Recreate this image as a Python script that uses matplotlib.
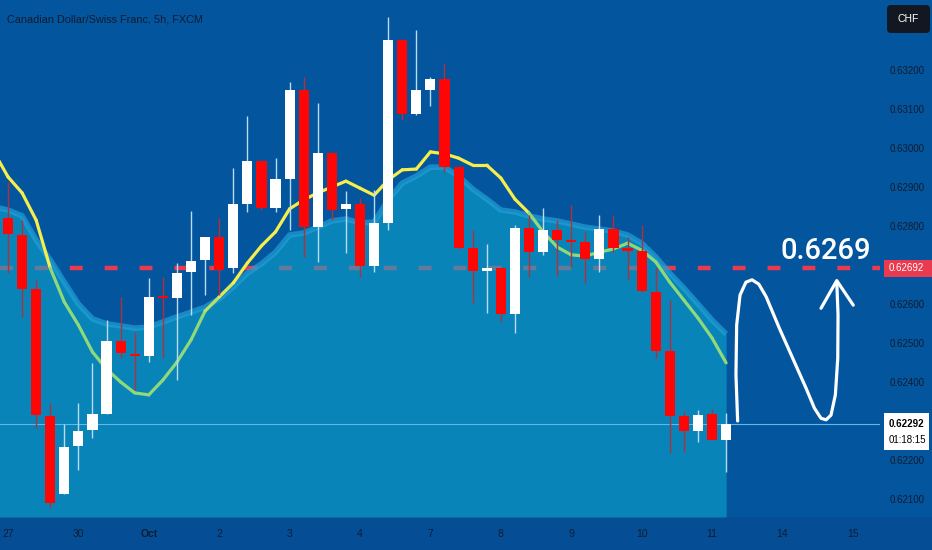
import matplotlib
matplotlib.use("Agg")
import matplotlib.pyplot as plt
import matplotlib.transforms as mtransforms
from matplotlib.collections import LineCollection
from matplotlib.patches import Rectangle, FancyBboxPatch
import numpy as np

plt.rcParams['font.family'] = ['Liberation Sans', 'DejaVu Sans']

# CAD/CHF 5h candles (bar 0 = first bar of Sep 27)
opens = [0.62821, 0.62777, 0.62638, 0.62313, 0.62113, 0.62236, 0.62277, 0.62318, 0.62505, 0.62472,
         0.62467, 0.62621, 0.62615, 0.62682, 0.62713, 0.62772, 0.62692, 0.62856, 0.62967, 0.62846,
         0.62921, 0.63149, 0.62797, 0.62987, 0.62844, 0.62856, 0.62697, 0.62808, 0.63277, 0.63087,
         0.63149, 0.63177, 0.62951, 0.62744, 0.62685, 0.62692, 0.62574, 0.62795, 0.62733, 0.62790,
         0.62764, 0.62759, 0.62715, 0.62792, 0.62744, 0.62736, 0.62631, 0.62479, 0.62313, 0.62274,
         0.62318, 0.62251]
highs = [0.62913, 0.62815, 0.62662, 0.62346, 0.62292, 0.62346, 0.62449, 0.62559, 0.62618, 0.62528,
         0.62667, 0.62669, 0.62705, 0.62838, 0.62772, 0.62821, 0.62949, 0.63082, 0.62969, 0.62974,
         0.63169, 0.63182, 0.63115, 0.62990, 0.62890, 0.62872, 0.62892, 0.63336, 0.63280, 0.63303,
         0.63182, 0.63218, 0.62954, 0.62790, 0.62754, 0.62695, 0.62803, 0.62828, 0.62846, 0.62815,
         0.62854, 0.62785, 0.62828, 0.62828, 0.62772, 0.62803, 0.62695, 0.62610, 0.62326, 0.62328,
         0.62331, 0.62321]
lows = [0.62680, 0.62567, 0.62282, 0.62077, 0.62113, 0.62174, 0.62256, 0.62318, 0.62462, 0.62379,
        0.62451, 0.62462, 0.62405, 0.62572, 0.62623, 0.62623, 0.62679, 0.62836, 0.62841, 0.62836,
        0.62790, 0.62721, 0.62708, 0.62815, 0.62731, 0.62669, 0.62682, 0.62790, 0.63072, 0.63085,
        0.63108, 0.62938, 0.62741, 0.62603, 0.62577, 0.62554, 0.62526, 0.62669, 0.62726, 0.62672,
        0.62695, 0.62654, 0.62682, 0.62733, 0.62662, 0.62631, 0.62462, 0.62218, 0.62221, 0.62246,
        0.62251, 0.62169]
closes = [0.62779, 0.62638, 0.62315, 0.62090, 0.62233, 0.62274, 0.62318, 0.62505, 0.62474, 0.62467,
          0.62618, 0.62615, 0.62679, 0.62710, 0.62772, 0.62687, 0.62856, 0.62967, 0.62846, 0.62921,
          0.63149, 0.62797, 0.62987, 0.62841, 0.62856, 0.62697, 0.62808, 0.63277, 0.63087, 0.63149,
          0.63177, 0.62951, 0.62744, 0.62685, 0.62692, 0.62574, 0.62795, 0.62733, 0.62790, 0.62764,
          0.62759, 0.62715, 0.62792, 0.62744, 0.62736, 0.62633, 0.62479, 0.62313, 0.62274, 0.62315,
          0.62251, 0.62292]

# moving averages, first value is bar -1 (just off the left edge)
ma_fast = [0.62990, 0.62926, 0.62885, 0.62815, 0.62692, 0.62605, 0.62546, 0.62477, 0.62433, 0.62400,
           0.62372, 0.62367, 0.62405, 0.62451, 0.62508, 0.62582, 0.62618, 0.62654, 0.62705, 0.62749,
           0.62785, 0.62844, 0.62867, 0.62885, 0.62900, 0.62915, 0.62897, 0.62879, 0.62918, 0.62944,
           0.62946, 0.62990, 0.62985, 0.62974, 0.62956, 0.62956, 0.62923, 0.62869, 0.62833, 0.62785,
           0.62746, 0.62726, 0.62723, 0.62733, 0.62741, 0.62756, 0.62738, 0.62708, 0.62656, 0.62610,
           0.62564, 0.62513, 0.62449]
ma_slow = [0.62849, 0.62841, 0.62826, 0.62764, 0.62713, 0.62656, 0.62600, 0.62562, 0.62549, 0.62544,
           0.62538, 0.62541, 0.62554, 0.62567, 0.62579, 0.62592, 0.62613, 0.62644, 0.62679, 0.62703,
           0.62733, 0.62777, 0.62782, 0.62797, 0.62813, 0.62818, 0.62808, 0.62810, 0.62867, 0.62910,
           0.62928, 0.62951, 0.62951, 0.62928, 0.62895, 0.62869, 0.62841, 0.62836, 0.62826, 0.62818,
           0.62813, 0.62805, 0.62797, 0.62792, 0.62787, 0.62777, 0.62756, 0.62721, 0.62679, 0.62641,
           0.62600, 0.62559, 0.62523]

day_ticks = [0, 5, 10, 15, 20, 25, 30, 35, 40, 45, 50, 55, 60]
day_labels = ['27', '30', 'Oct', '2', '3', '4', '7', '8', '9', '10', '11', '14', '15']
price_ticks = [0.621, 0.622, 0.624, 0.625, 0.626, 0.628, 0.629, 0.630, 0.631, 0.632]

level = 0.62692
last_price = 0.62292
countdown = "01:18:15"
target_text = "0.6269"
title = "Canadian Dollar/Swiss Franc, 5h, FXCM"

# hand drawn arrow (bar index, price)
arrow_x = [51.82, 51.70, 51.75, 51.99, 52.41, 52.84, 53.32, 53.84, 54.78, 55.84, 56.68,
           57.27, 57.74, 58.10, 58.45, 58.76, 58.93, 58.95, 58.86]
arrow_y = [0.62300, 0.62418, 0.62546, 0.62623, 0.62656, 0.62662, 0.62651, 0.62619, 0.62538,
           0.62452, 0.62384, 0.62333, 0.62307, 0.62303, 0.62315, 0.62367, 0.62461, 0.62572, 0.62657]
head_x = [57.74, 58.86, 60.03]
head_y = [0.62589, 0.62660, 0.62597]

BG = '#03559e'
BAND = '#054e96'
TXT = '#101c30'
RED = '#ff0606'
LVL = '#ea3a50'

W, H = 932, 550
fig = plt.figure(figsize=(W / 100, H / 100), dpi=100, facecolor=BG)
ax = fig.add_axes([0, 33 / H, 880 / W, 517 / H])
ax.set_facecolor(BG)
fig.patches.append(Rectangle((0, 0), 1, 33 / H, transform=fig.transFigure,
                             facecolor=BAND, edgecolor='none', zorder=-1))

n = len(opens)
bars = np.arange(n)
line_x = np.arange(-1, n)
ymin, ymax = 0.620538, 0.633795

# level line (under the area so it shows muted there)
ax.axhline(level, color=LVL, lw=3.2, linestyle=(0, (2.9, 4.95)), zorder=1)

# area under the slow average
ax.fill_between(line_x, ma_slow, ymin, color='#0da5cb', alpha=0.6, lw=0, zorder=2)
ax.plot(line_x, ma_slow, color='#22a0d6', lw=4.0, alpha=0.7, zorder=3, solid_capstyle='butt')

ax.axhline(last_price, color='#5fb9ea', lw=0.8, zorder=3)

# fast average, yellow above the area, green below
yel = np.array([0.97, 0.93, 0.30])
grn = np.array([0.56, 0.85, 0.48])
fa = np.array(ma_fast)
sl = np.array(ma_slow)
pts = np.column_stack([line_x, fa])
segs = np.stack([pts[:-1], pts[1:]], axis=1)
diff = ((fa - sl)[:-1] + (fa - sl)[1:]) / 2
t = np.clip(0.5 - diff / 0.0003, 0, 1)[:, None]
cols = yel * (1 - t) + grn * t
ax.add_collection(LineCollection(segs, colors=cols, linewidths=2.3, zorder=4, capstyle='round'))

# candles
for i in bars:
    o, h, l, c = opens[i], highs[i], lows[i], closes[i]
    up = c >= o
    ax.vlines(i, l, h, color='#b9dcf2' if up else '#b0303c', lw=1, zorder=5)
    body = max(abs(c - o), 0.00006)
    ax.bar(i, body, bottom=min(o, c) if abs(c - o) > 0.00006 else (o + c) / 2 - 0.00003,
           width=0.72, color='white' if up else RED, lw=0, zorder=6)

# arrow drawing + target
ax.plot(arrow_x, arrow_y, color='white', lw=2.3, solid_capstyle='round', solid_joinstyle='round', zorder=7)
ax.plot(head_x, head_y, color='white', lw=2.3, solid_capstyle='round', solid_joinstyle='round', zorder=7)
ax.text(58.1, 0.62715, target_text, color='white', fontsize=21, family=['Roboto', 'DejaVu Sans'],
        fontweight='medium', ha='center', va='baseline', zorder=7)

ax.set_xlim(-0.568, 61.93)
ax.set_ylim(ymin, ymax)
for s in ax.spines.values():
    s.set_visible(False)

ax.yaxis.tick_right()
ax.set_yticks(price_ticks)
ax.set_yticklabels(['%.5f' % p for p in price_ticks])
ax.tick_params(axis='y', length=0, pad=7.2, labelsize=7, labelcolor=TXT)
ax.set_xticks(day_ticks)
ax.set_xticklabels(day_labels)
ax.tick_params(axis='x', length=0, pad=8.5, labelsize=7.5, labelcolor=TXT)
ax.get_xticklabels()[2].set_fontweight('bold')

# price scale labels
blend = mtransforms.blended_transform_factory(fig.transFigure, ax.transData)
pp = 1 / 39000
fig.add_artist(Rectangle((884 / W, level - 8.5 * pp), 48 / W, 17 * pp, transform=blend,
                         facecolor=LVL, edgecolor='none', zorder=2))
fig.text(889 / W, level, '%.5f' % level, transform=blend, color='white', fontsize=7,
         va='center', ha='left', zorder=3)
fig.add_artist(Rectangle((884 / W, last_price - 26 * pp), 45 / W, 37 * pp, transform=blend,
                         facecolor='white', edgecolor='none', zorder=2))
fig.text(889 / W, last_price + 0.5 * pp, '%.5f' % last_price, transform=blend, color='black',
         fontsize=7, fontweight='bold', va='center', ha='left', zorder=3)
fig.text(889 / W, last_price - 16 * pp, countdown, transform=blend, color='black',
         fontsize=7, va='center', ha='left', zorder=3)

fig.add_artist(FancyBboxPatch((8.87, (H - 33) / 100), 0.43, 0.28, boxstyle='round,pad=0,rounding_size=0.04',
                              transform=fig.dpi_scale_trans, facecolor='#131722', edgecolor='none', zorder=2))
fig.text(908.5 / W, 1 - 19 / H, 'CHF', color='white', fontsize=7.5, ha='center', va='center', zorder=3)

fig.text(7 / W, 1 - 19 / H, title, color=TXT, fontsize=7.8, ha='left', va='center')

fig.savefig('out.png', dpi=100, facecolor=BG)
